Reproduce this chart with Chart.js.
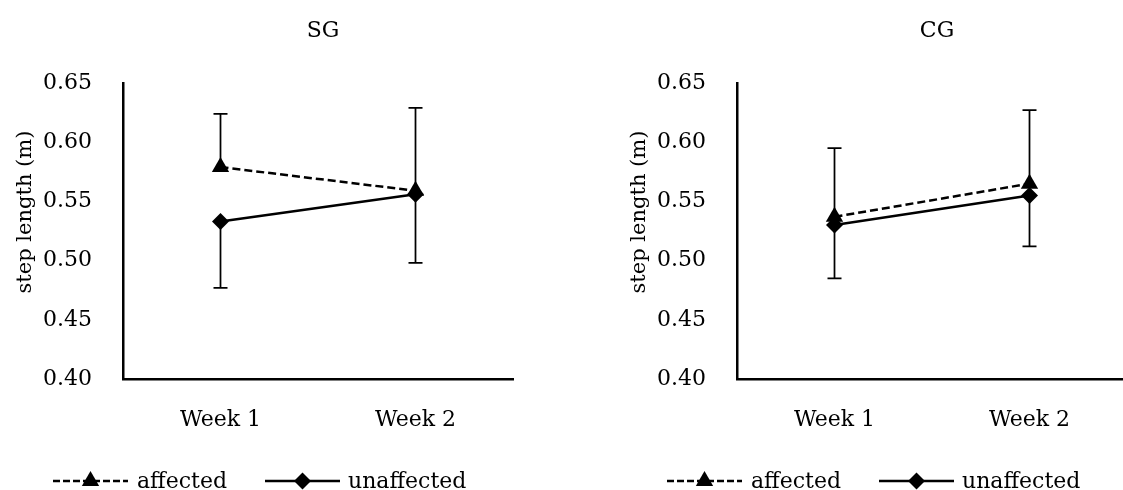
<!DOCTYPE html>
<html>
<head>
<meta charset="utf-8">
<script src="https://cdn.jsdelivr.net/npm/chart.js@4.4.1/dist/chart.umd.min.js"></script>
<style>
  html, body { margin: 0; padding: 0; background: #fff; overflow: hidden; }
  body { width: 1123px; height: 490px; position: relative; }
  .box { position: absolute; top: 0; width: 561px; height: 490px; }
  #boxSG { left: 0; }
  #boxCG { left: 614px; }
</style>
</head>
<body>
<div class="box" id="boxSG"><canvas id="chartSG" width="561" height="490"></canvas></div>
<div class="box" id="boxCG"><canvas id="chartCG" width="561" height="490"></canvas></div>
<script>
const weeks = ['Week 1', 'Week 2'];
const yMin = 0.40, yMax = 0.65, yStep = 0.05;

// SG group
const sgAffected = [0.579, 0.559];
const sgUnaffected = [0.533, 0.556];
const sgAffectedErr = [0.045, 0.070];    // drawn upwards
const sgUnaffectedErr = [0.056, 0.058];  // drawn downwards

// CG group
const cgAffected = [0.537, 0.565];
const cgUnaffected = [0.530, 0.555];
const cgAffectedErr = [0.058, 0.062];
const cgUnaffectedErr = [0.045, 0.043];

const FONT = "'DejaVu Serif', serif";

function marker(ctx, style, x, y, r) {
    ctx.beginPath();
    if (style === 'triangle') {
        ctx.moveTo(x, y - r);
        ctx.lineTo(x + r * Math.sin(Math.PI / 3), y + r / 2);
        ctx.lineTo(x - r * Math.sin(Math.PI / 3), y + r / 2);
    } else {
        ctx.moveTo(x, y - r);
        ctx.lineTo(x + r, y);
        ctx.lineTo(x, y + r);
        ctx.lineTo(x - r, y);
    }
    ctx.closePath();
    ctx.fill();
}

// error bars, title, rotated axis title and legend
const extrasPlugin = {
    id: 'extras',
    beforeDatasetsDraw(chart) {
        const ctx = chart.ctx;
        const y = chart.scales.y;
        ctx.save();
        ctx.strokeStyle = '#000';
        ctx.lineWidth = 1.75;
        chart.data.datasets.forEach((ds, i) => {
            const meta = chart.getDatasetMeta(i);
            ds.errors.forEach((e, j) => {
                const px = meta.data[j].x;
                const y0 = y.getPixelForValue(ds.data[j]);
                const y1 = y.getPixelForValue(ds.data[j] + ds.errDir * e);
                ctx.beginPath();
                ctx.moveTo(px, y0);
                ctx.lineTo(px, y1);
                ctx.moveTo(px - 7, y1);
                ctx.lineTo(px + 7, y1);
                ctx.stroke();
            });
        });
        ctx.restore();
    },
    afterDraw(chart, args, opts) {
        const ctx = chart.ctx;
        ctx.save();
        ctx.fillStyle = '#000';
        ctx.font = '22px ' + FONT;
        ctx.textAlign = 'center';
        ctx.textBaseline = 'middle';
        ctx.fillText(opts.title, 323, 31);

        ctx.save();
        ctx.translate(26, 212);
        ctx.rotate(-Math.PI / 2);
        ctx.font = '21px ' + FONT;
        ctx.fillText('step length (m)', 0, 0);
        ctx.restore();

        // legend
        const ly = 481;
        const items = [
            { ds: chart.data.datasets[0], x0: 53, x1: 128, tx: 137 },
            { ds: chart.data.datasets[1], x0: 265, x1: 340, tx: 348 }
        ];
        items.forEach(it => {
            ctx.strokeStyle = '#000';
            ctx.lineWidth = it.ds.borderWidth;
            ctx.setLineDash(it.ds.borderDash ? [7, 3] : []);
            ctx.beginPath();
            ctx.moveTo(it.x0, ly);
            ctx.lineTo(it.x1, ly);
            ctx.stroke();
            ctx.setLineDash([]);
            marker(ctx, it.ds.pointStyle, (it.x0 + it.x1) / 2, ly, it.ds.pointRadius);
            ctx.font = '22px ' + FONT;
            ctx.textAlign = 'left';
            ctx.textBaseline = 'alphabetic';
            ctx.fillText(it.ds.label, it.tx, 488);
        });
        ctx.restore();
    }
};

function makeChart(id, title, affected, unaffected, affErr, unaffErr) {
    const ctx = document.getElementById(id);
    return new Chart(ctx, {
        type: 'line',
        data: {
            labels: weeks,
            datasets: [
                {
                    label: 'affected',
                    data: affected,
                    errors: affErr,
                    errDir: 1,
                    borderColor: '#000',
                    backgroundColor: '#000',
                    borderWidth: 2.5,
                    borderDash: [8, 4],
                    pointStyle: 'triangle',
                    pointRadius: 10,
                    pointBorderWidth: 0,
                    pointBackgroundColor: '#000',
                    tension: 0
                },
                {
                    label: 'unaffected',
                    data: unaffected,
                    errors: unaffErr,
                    errDir: -1,
                    borderColor: '#000',
                    backgroundColor: '#000',
                    borderWidth: 2.5,
                    pointStyle: 'rectRot',
                    pointRadius: 8.5,
                    pointBorderWidth: 0,
                    pointBackgroundColor: '#000',
                    tension: 0
                }
            ]
        },
        options: {
            responsive: false,
            animation: false,
            layout: { padding: { left: 0, top: 83, right: 48, bottom: 51 } },
            plugins: {
                legend: { display: false },
                title: { display: false },
                tooltip: { enabled: false },
                extras: { title: title }
            },
            scales: {
                x: {
                    offset: true,
                    grid: { display: false, drawTicks: false },
                    border: { display: true, color: '#000', width: 2.5 },
                    ticks: { color: '#000', font: { family: FONT, size: 22 }, padding: 28 },
                    afterFit: s => { s.height = 60; }
                },
                y: {
                    min: yMin,
                    max: yMax,
                    grid: { display: false, drawTicks: false },
                    border: { display: true, color: '#000', width: 2.5 },
                    ticks: {
                        stepSize: yStep,
                        color: '#000',
                        padding: 31,
                        font: { family: FONT, size: 22 },
                        callback: v => Number(v).toFixed(2)
                    },
                    afterFit: s => { s.width = 123; }
                }
            }
        },
        plugins: [extrasPlugin]
    });
}

makeChart('chartSG', 'SG', sgAffected, sgUnaffected, sgAffectedErr, sgUnaffectedErr);
makeChart('chartCG', 'CG', cgAffected, cgUnaffected, cgAffectedErr, cgUnaffectedErr);
</script>
</body>
</html>
